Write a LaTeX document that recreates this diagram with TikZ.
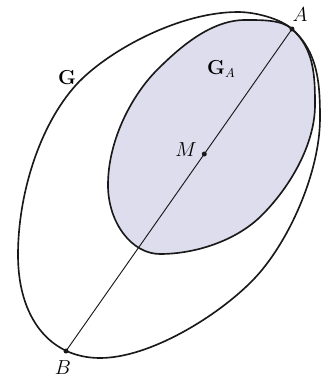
\documentclass[tikz,border=0pt]{standalone}
\usepackage{tikz}
\usetikzlibrary{positioning}
\definecolor{setcol}{RGB}{221, 221, 237}
\definecolor{linecol}{RGB}{25, 25, 25}
\tikzset{
  region/.style = {draw=linecol, line width=1.4pt, line join=round},
  inner/.style  = {region, fill=setcol},
  chord/.style  = {draw=linecol, line width=0.8pt},
  pt/.style     = {circle, fill=linecol, inner sep=0pt, minimum size=1.5mm},
  lbl/.style    = {font=\fontsize{16}{19}\selectfont, inner sep=0pt},
}

\begin{document}
\begin{tikzpicture}[x=0.03cm, y=-0.03cm]
  \useasboundingbox (0,0) rectangle (321,379);

  %% ---------------- the two regions ----------------
  % inner region first, so that the outer curve is drawn on top of it
  \draw[inner] (245,20) .. controls (262,20) and (281.5,19.6) .. (292,29)
    .. controls (314.5,49) and (315,77) .. (315,105)
    .. controls (315,145) and (289,189) .. (260,217)
    .. controls (235,241) and (195,254) .. (160,254)
    .. controls (132,254) and (108,223) .. (108,185)
    .. controls (108,140) and (132,95) .. (157,70)
    .. controls (178,49) and (210,20) .. cycle;

  \draw[region] (238,12) .. controls (256,12) and (281,19) .. (292,29)
    .. controls (318,52) and (320,83) .. (320,118)
    .. controls (320,173) and (288,244) .. (253,280)
    .. controls (218,316) and (150,358) .. (100,358)
    .. controls (50,358) and (18,318) .. (18,255)
    .. controls (18,195) and (39,126) .. (76,85)
    .. controls (106,52) and (178,12) .. cycle;

  %% ---------------- the chord ----------------
  \node[pt] (A) at (292,29) {};
  \node[pt] (B) at (66,351) {};
  \node[pt] (M) at (204.3,154) {};
  \draw[chord] (A.center) -- (B.center);

  %% ---------------- labels ----------------
  \node[lbl] (Alab) at (300,15) {$A$};
  \node[lbl] (Mlab) at (186,150) {$M$};
  \node[lbl] (Blab) at (63,368) {$B$};
  \node[lbl] (Glab) at (67,78) {$\mathbf{G}$};
  \node[lbl, anchor=base west] (GAlab) at (207,74) {$\mathbf{G}_A$};

\end{tikzpicture}
\end{document}
